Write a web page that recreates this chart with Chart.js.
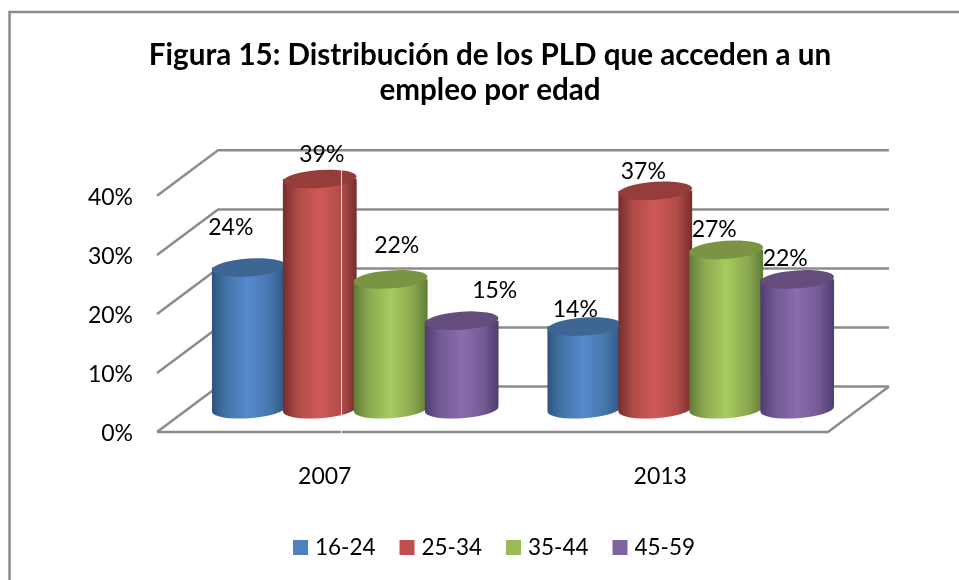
<!DOCTYPE html>
<html>
<head>
<meta charset="utf-8">
<title>Figura 15</title>
<script src="https://cdn.jsdelivr.net/npm/chart.js@4"></script>
<style>
  html, body { margin: 0; padding: 0; background: #fff; }
  #wrap { width: 959px; height: 580px; }
</style>
</head>
<body>
<div id="wrap"><canvas id="grafico" width="959" height="580"></canvas></div>
<script>
const categorias = ['2007', '2013'];
const grupos = ['16-24', '25-34', '35-44', '45-59'];
const valores1624 = [24, 14];
const valores2534 = [39, 37];
const valores3544 = [22, 27];
const valores4559 = [15, 22];
const ticksEje = [0, 10, 20, 30, 40];

// colores: cuerpo (borde, intermedio, centro), tapa, leyenda
const coloresBorde = ['#2c5480', '#762d2b', '#5f7c38', '#4f3c70'];
const coloresMedio = ['#4674a9', '#af4b48', '#8ba84f', '#725a92'];
const coloresCentro = ['#558ace', '#d05957', '#a7cb60', '#8b6cae'];
const coloresTapa = ['#3e6692', '#953d3a', '#7a9344', '#644d7d'];
const coloresLeyenda = ['#4f81bd', '#c0504d', '#9bbb59', '#8064a2'];

// desplazamiento de las etiquetas respecto al centro de la tapa, como en el original
const ajusteEtiquetas = [
  [[-18, -40], [-9, -17]],
  [[2, -24], [-12, -19]],
  [[6, -34], [-12, -20]],
  [[33, -30], [-12, -21]]
];

const FUENTE = 'Lato, Carlito, sans-serif';
const fondoX = 61, fondoY = 45.5; // profundidad del piso

const grafico3d = {
  id: 'grafico3d',
  beforeDatasetsDraw(chart) {
    const ctx = chart.ctx;
    const { left, right } = chart.chartArea;
    const y = chart.scales.y;

    // marco exterior: solo arriba y a la izquierda, el resto queda cortado
    ctx.save();
    ctx.strokeStyle = '#8a8a8a';
    ctx.lineWidth = 2.5;
    ctx.beginPath();
    ctx.moveTo(9.5, chart.height);
    ctx.lineTo(9.5, 12);
    ctx.lineTo(chart.width, 12);
    ctx.stroke();

    // paredes y piso
    ctx.strokeStyle = '#8c8c8c';
    ctx.lineWidth = 2.5;
    ctx.beginPath();
    ticksEje.forEach(t => {
      const py = y.getPixelForValue(t);
      ctx.moveTo(left, py);
      ctx.lineTo(left + fondoX, py - fondoY);
      ctx.lineTo(right + fondoX, py - fondoY);
    });
    const y0 = y.getPixelForValue(0);
    ctx.moveTo(left, y0);
    ctx.lineTo(right, y0);
    ctx.lineTo(right + fondoX, y0 - fondoY);
    ctx.stroke();
    ctx.restore();

    // cilindros
    chart.data.datasets.forEach((ds, i) => {
      chart.getDatasetMeta(i).data.forEach(bar => {
        dibujarCilindro(ctx, bar, i);
      });
    });

    // linea clara que cruza la barra roja en el original
    ctx.save();
    ctx.strokeStyle = 'rgba(255,255,255,0.8)';
    ctx.lineWidth = 1;
    ctx.beginPath();
    ctx.moveTo(341.5, 170);
    ctx.lineTo(341.5, 436);
    ctx.stroke();
    ctx.restore();
  },
  beforeDatasetDraw() {
    return false; // las barras planas no se dibujan
  },
  afterDraw(chart) {
    const ctx = chart.ctx;
    ctx.save();
    ctx.fillStyle = '#000';
    ctx.font = '23px ' + FUENTE;
    ctx.textAlign = 'center';
    ctx.textBaseline = 'middle';
    chart.data.datasets.forEach((ds, i) => {
      chart.getDatasetMeta(i).data.forEach((bar, j) => {
        const aj = ajusteEtiquetas[i][j];
        ctx.fillText(ds.data[j] + '%', bar.x + fondoX / 2 + aj[0], bar.y - fondoY / 2 + aj[1]);
      });
    });

    // leyenda
    ctx.textAlign = 'left';
    ctx.font = '22.5px ' + FUENTE;
    let x = 293;
    chart.data.datasets.forEach((ds, i) => {
      ctx.fillStyle = coloresLeyenda[i];
      ctx.fillRect(x, 540, 15, 15);
      ctx.fillStyle = '#000';
      ctx.fillText(ds.label, x + 22, 547.5);
      x += 106.5;
    });
    ctx.restore();
  }
};

function dibujarCilindro(ctx, bar, i) {
  const cx = bar.x + fondoX / 2;
  const rx = bar.width / 2;
  const ry = 9;
  const giro = -0.07;
  const arriba = bar.y - fondoY / 2;
  const abajo = bar.base - fondoY / 2;

  const grad = ctx.createLinearGradient(cx - rx, 0, cx + rx, 0);
  grad.addColorStop(0, coloresBorde[i]);
  grad.addColorStop(0.2, coloresMedio[i]);
  grad.addColorStop(0.5, coloresCentro[i]);
  grad.addColorStop(0.8, coloresMedio[i]);
  grad.addColorStop(1, coloresBorde[i]);

  ctx.save();
  ctx.fillStyle = grad;
  ctx.beginPath();
  ctx.ellipse(cx, abajo, rx, ry, giro, 0, Math.PI);
  ctx.lineTo(cx - rx, arriba);
  ctx.lineTo(cx + rx, arriba);
  ctx.closePath();
  ctx.fill();

  ctx.fillStyle = coloresTapa[i];
  ctx.beginPath();
  ctx.ellipse(cx, arriba, rx, ry, giro, 0, Math.PI * 2);
  ctx.fill();
  ctx.restore();
}

new Chart(document.getElementById('grafico'), {
  type: 'bar',
  data: {
    labels: categorias,
    datasets: [
      { label: grupos[0], data: valores1624, backgroundColor: coloresLeyenda[0] },
      { label: grupos[1], data: valores2534, backgroundColor: coloresLeyenda[1] },
      { label: grupos[2], data: valores3544, backgroundColor: coloresLeyenda[2] },
      { label: grupos[3], data: valores4559, backgroundColor: coloresLeyenda[3] }
    ]
  },
  options: {
    responsive: false,
    animation: false,
    categoryPercentage: 0.846,
    barPercentage: 1.04,
    // el relleno izquierdo centra el titulo sobre todo el marco
    layout: { padding: { left: 21 } },
    plugins: {
      legend: { display: false },
      tooltip: { enabled: false },
      title: {
        display: true,
        text: ['Figura 15: Distribución de los PLD que acceden a un', 'empleo por edad'],
        color: '#000',
        font: { family: FUENTE, size: 29.6, weight: 'bold', lineHeight: 1.18 },
        padding: { top: 38, bottom: 88 }
      }
    },
    scales: {
      y: {
        min: 0,
        max: 40,
        ticks: {
          stepSize: 10,
          color: '#000',
          padding: 16,
          labelOffset: 1.5,
          font: { family: FUENTE, size: 23 },
          callback: v => v + '%'
        },
        grid: { display: false },
        border: { display: false },
        afterFit(s) { s.width = 136; }
      },
      // eje vacio, solo reserva el hueco de la derecha
      derecha: {
        type: 'linear',
        position: 'right',
        ticks: { display: false },
        grid: { display: false },
        border: { display: false },
        afterFit(s) { s.width = 131; }
      },
      x: {
        ticks: {
          color: '#000',
          padding: 23,
          font: { family: FUENTE, size: 23 }
        },
        grid: { display: false },
        border: { display: false },
        afterFit(s) { s.height = 148; }
      }
    }
  },
  plugins: [grafico3d]
});
</script>
</body>
</html>
